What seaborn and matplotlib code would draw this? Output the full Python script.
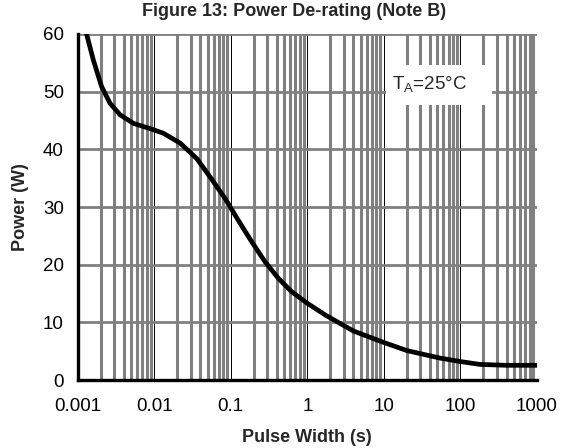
import matplotlib
matplotlib.use("Agg")
import matplotlib.pyplot as plt
import matplotlib.ticker as mticker
from matplotlib.patches import Rectangle
import seaborn as sns
import pandas as pd

pulse_width = [0.00115, 0.0013, 0.0016, 0.00205, 0.00264, 0.00357, 0.00533, 0.0088,
               0.0131, 0.0217, 0.0359, 0.055, 0.084, 0.125, 0.187, 0.28, 0.42, 0.625,
               1.0, 1.75, 4.0, 10.0, 20.0, 54.0, 100.0, 180.0, 400.0, 1000.0]
power = [64.0, 60.1, 55.5, 50.9, 48.0, 46.0, 44.5, 43.6,
         42.8, 41.1, 38.4, 35.0, 31.5, 27.7, 24.0, 20.5, 17.6, 15.3,
         13.3, 11.2, 8.5, 6.5, 5.1, 3.8, 3.2, 2.7, 2.55, 2.55]
x_ticks = [0.001, 0.01, 0.1, 1, 10, 100, 1000]
x_tick_labels = ["0.001", "0.01", "0.1", "1", "10", "100", "1000"]
y_ticks = [0, 10, 20, 30, 40, 50, 60]

sns.set_style("white")
plt.rcParams["font.family"] = ["Liberation Sans", "DejaVu Sans"]

fig = plt.figure(figsize=(5.63, 4.48), dpi=100)
ax = fig.add_axes([77.7 / 563, 68 / 448, (537 - 77.7) / 563, (380 - 34) / 448])

df = pd.DataFrame({"Pulse Width (s)": pulse_width, "Power (W)": power})
sns.lineplot(data=df, x="Pulse Width (s)", y="Power (W)", ax=ax, color="black",
             linewidth=3.4, zorder=5)
for ln in ax.lines:
    ln.set_solid_joinstyle("round")
    ln.set_solid_capstyle("butt")

ax.set_xscale("log")
ax.set_xlim(0.001, 1000)
ax.set_ylim(0, 60)
ax.set_xticks(x_ticks)
ax.set_xticklabels(x_tick_labels)
ax.xaxis.set_minor_locator(mticker.LogLocator(base=10, subs=range(2, 10), numticks=100))
ax.xaxis.set_minor_formatter(mticker.NullFormatter())
ax.set_yticks(y_ticks)

ax.grid(True, which="minor", axis="x", color="#808080", linewidth=2.2, zorder=1)
ax.grid(True, which="major", axis="x", color="black", linewidth=0.7, zorder=2)
ax.grid(True, which="major", axis="y", color="#808080", linewidth=2.0, zorder=1)
ax.set_axisbelow(True)

ax.tick_params(axis="both", which="both", length=0, labelsize=13.5, colors="black")
ax.tick_params(axis="x", pad=13)
ax.tick_params(axis="y", pad=10)

for side in ["top", "right"]:
    ax.spines[side].set_visible(False)
for side in ["left", "bottom"]:
    ax.spines[side].set_color("black")
    ax.spines[side].set_linewidth(2.4)
    ax.spines[side].set_zorder(6)

ax.set_xlabel("")
ax.set_ylabel("")
fig.text(307 / 563, 1 - 437 / 448, "Pulse Width (s)", fontsize=13, fontweight="bold",
         ha="center", va="center")
fig.text(21 / 563, 1 - 207 / 448, "Power (W)", fontsize=13, fontweight="bold",
         ha="center", va="center", rotation=90)
fig.text(294 / 563, 1 - 12 / 448, "Figure 13: Power De-rating (Note B)", fontsize=13,
         fontweight="bold", ha="center", va="center")

ax.add_patch(Rectangle((0.671, 0.795), 0.231, 0.115, transform=ax.transAxes,
                       facecolor="white", edgecolor="none", zorder=3))
ax.text(0.684, 0.852, "T$_\\mathregular{A}$=25°C", transform=ax.transAxes, fontsize=13.5,
        ha="left", va="center", zorder=4)

fig.savefig("out.png", dpi=100)
